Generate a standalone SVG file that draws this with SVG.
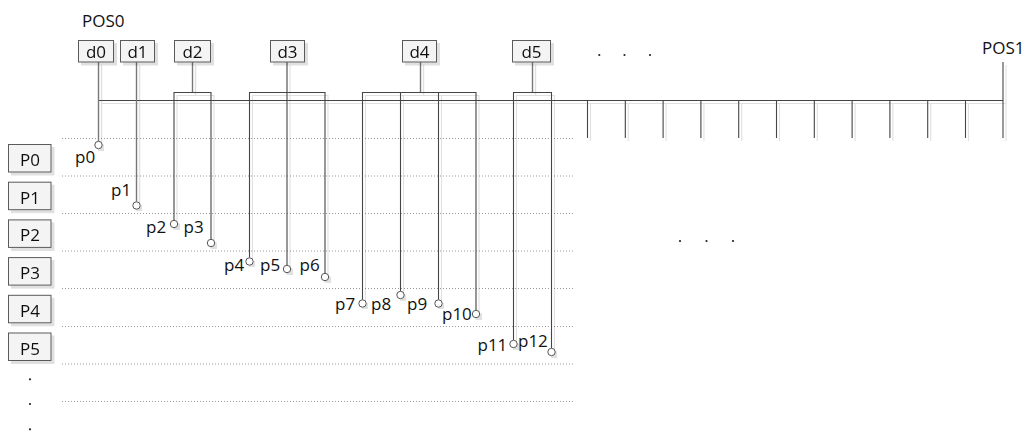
<svg xmlns="http://www.w3.org/2000/svg" width="1027" height="432" viewBox="0 0 1027 432">
<defs>
<filter id="sh" x="-20%" y="-20%" width="140%" height="140%">
<feOffset in="SourceAlpha" dx="3" dy="3" result="o"/>
<feFlood flood-color="#000" flood-opacity="0.12"/>
<feComposite in2="o" operator="in" result="s"/>
<feMerge><feMergeNode in="s"/><feMergeNode in="SourceGraphic"/></feMerge>
</filter>
</defs>
<style>
text{font-family:"Open Sans","Liberation Sans",sans-serif;font-size:17px;fill:#111}
.box{fill:#f4f4f4;stroke:#5a5a5a;stroke-width:1}
.mid{text-anchor:middle}
.ln{fill:none;stroke:#444;stroke-width:1.1}
.lg{fill:none;stroke:#777;stroke-width:1.4}
.grid{fill:none;stroke:#9a9a9a;stroke-width:1;stroke-dasharray:1 2}
.pc{fill:#fff;stroke:#555;stroke-width:1}
.dot{fill:#222}
</style>
<rect width="1027" height="432" fill="#fff"/>

<g id="grid">
<path class="grid" d="M62 138.5H573M62 176H573M62 213.5H573M62 251H573M62 288.5H573M62 326.5H573M62 364H573M62 401.5H573"/>
</g>

<g id="connectors" filter="url(#sh)">
<path class="ln" d="M98.5 100.5H1003"/>
<path class="ln" d="M1003 62V138"/>
<path class="ln" d="M587.5 100.5V138M625.3 100.5V138M663.1 100.5V138M700.9 100.5V138M738.7 100.5V138M776.5 100.5V138M814.3 100.5V138M852.1 100.5V138M889.9 100.5V138M927.7 100.5V138M965.5 100.5V138"/>
<path class="lg" d="M98.5 62V141.3"/>
<path class="lg" d="M136.5 62V201.8"/>
<path class="lg" d="M192.5 62V92.5"/>
<path class="ln" d="M174 220.3V92.5H211V239.3"/>
<path class="ln" d="M287 62V265.3"/>
<path class="ln" d="M249.5 257.8V92.5H325V273.3"/>
<path class="lg" d="M420.5 62V92.5"/>
<path class="ln" d="M362.5 299.8V92.5H476V310.3"/>
<path class="ln" d="M400.5 92.5V291.3"/>
<path class="ln" d="M438.5 92.5V299.8"/>
<path class="lg" d="M532.5 62V92.5"/>
<path class="ln" d="M513.5 340.3V92.5H551.5V348.3"/>
</g>

<g id="POS0"><text x="82" y="27">POS0</text></g>
<g id="POS1"><text x="982" y="53.5">POS1</text></g>

<g id="d0" filter="url(#sh)"><rect class="box" x="78.5" y="40.5" width="35" height="21.5"/><text class="mid" x="96" y="57.5">d0</text></g>
<g id="d1" filter="url(#sh)"><rect class="box" x="120.5" y="40.5" width="34" height="21.5"/><text class="mid" x="137.5" y="57.5">d1</text></g>
<g id="d2" filter="url(#sh)"><rect class="box" x="174.5" y="40.5" width="36" height="21.5"/><text class="mid" x="192.5" y="57.5">d2</text></g>
<g id="d3" filter="url(#sh)"><rect class="box" x="270.5" y="40.5" width="34" height="21.5"/><text class="mid" x="287.5" y="57.5">d3</text></g>
<g id="d4" filter="url(#sh)"><rect class="box" x="402.5" y="40.5" width="34" height="21.5"/><text class="mid" x="419.5" y="57.5">d4</text></g>
<g id="d5" filter="url(#sh)"><rect class="box" x="512.5" y="40.5" width="38" height="21.5"/><text class="mid" x="531.5" y="57.5">d5</text></g>

<g id="P0" filter="url(#sh)"><rect class="box" x="8.5" y="144.5" width="42.5" height="27.5"/><text class="mid" x="30" y="166">P0</text></g>
<g id="P1" filter="url(#sh)"><rect class="box" x="8.5" y="182.2" width="42.5" height="27.5"/><text class="mid" x="30" y="203.7">P1</text></g>
<g id="P2" filter="url(#sh)"><rect class="box" x="8.5" y="219.9" width="42.5" height="27.5"/><text class="mid" x="30" y="241.4">P2</text></g>
<g id="P3" filter="url(#sh)"><rect class="box" x="8.5" y="257.6" width="42.5" height="27.5"/><text class="mid" x="30" y="279.1">P3</text></g>
<g id="P4" filter="url(#sh)"><rect class="box" x="8.5" y="295.3" width="42.5" height="27.5"/><text class="mid" x="30" y="316.8">P4</text></g>
<g id="P5" filter="url(#sh)"><rect class="box" x="8.5" y="333" width="42.5" height="27.5"/><text class="mid" x="30" y="354.5">P5</text></g>

<g id="p0"><circle class="pc" filter="url(#sh)" cx="98.5" cy="145" r="3.7"/><text x="75" y="163">p0</text></g>
<g id="p1"><circle class="pc" filter="url(#sh)" cx="136.5" cy="205.5" r="3.7"/><text x="111" y="196">p1</text></g>
<g id="p2"><circle class="pc" filter="url(#sh)" cx="174" cy="224" r="3.7"/><text x="146" y="233">p2</text></g>
<g id="p3"><circle class="pc" filter="url(#sh)" cx="211" cy="243" r="3.7"/><text x="183.5" y="233">p3</text></g>
<g id="p4"><circle class="pc" filter="url(#sh)" cx="249.5" cy="261.5" r="3.7"/><text x="224" y="270.5">p4</text></g>
<g id="p5"><circle class="pc" filter="url(#sh)" cx="287" cy="269" r="3.7"/><text x="260" y="270.5">p5</text></g>
<g id="p6"><circle class="pc" filter="url(#sh)" cx="325" cy="277" r="3.7"/><text x="299.5" y="270.5">p6</text></g>
<g id="p7"><circle class="pc" filter="url(#sh)" cx="362.5" cy="303.5" r="3.7"/><text x="335" y="310">p7</text></g>
<g id="p8"><circle class="pc" filter="url(#sh)" cx="400.5" cy="295" r="3.7"/><text x="371" y="310">p8</text></g>
<g id="p9"><circle class="pc" filter="url(#sh)" cx="438.5" cy="303.5" r="3.7"/><text x="407" y="310">p9</text></g>
<g id="p10"><circle class="pc" filter="url(#sh)" cx="476" cy="314" r="3.7"/><text x="442" y="320">p10</text></g>
<g id="p11"><circle class="pc" filter="url(#sh)" cx="513.5" cy="344" r="3.7"/><text x="477.5" y="350.5">p11</text></g>
<g id="p12"><circle class="pc" filter="url(#sh)" cx="551.5" cy="352" r="3.7"/><text x="518" y="347">p12</text></g>

<g id="ellipses">
<circle class="dot" cx="599.3" cy="55" r="1.1"/><circle class="dot" cx="624.5" cy="55" r="1.1"/><circle class="dot" cx="650" cy="55" r="1.1"/>
<circle class="dot" cx="680" cy="241" r="1.1"/><circle class="dot" cx="706.5" cy="241" r="1.1"/><circle class="dot" cx="733" cy="241" r="1.1"/>
<circle class="dot" cx="30" cy="379.3" r="1.1"/><circle class="dot" cx="30" cy="404" r="1.1"/><circle class="dot" cx="30" cy="429.3" r="1.1"/>
</g>
</svg>
